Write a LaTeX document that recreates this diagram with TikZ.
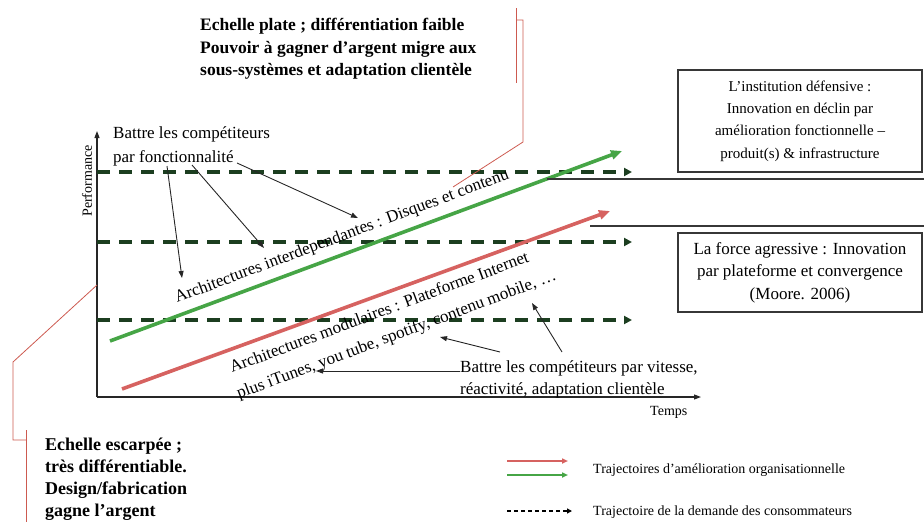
\documentclass[tikz,border=0pt]{standalone}
\usepackage{fontspec}
\setmainfont{Liberation Serif}
\usetikzlibrary{arrows.meta}
\definecolor{demandgreen}{RGB}{28,62,32}
\definecolor{trajgreen}{RGB}{70,165,70}
\definecolor{trajred}{RGB}{214,98,96}
\definecolor{bracketred}{RGB}{205,90,80}
\definecolor{framegray}{RGB}{55,55,55}
\newcommand\fsz[2]{\fontsize{#1}{#2}\selectfont}

\begin{document}
\begin{tikzpicture}[x=1pt,y=-1pt,
  lbl/.style={inner sep=0pt, align=left},
  boldnote/.style={lbl, anchor=north west, font=\fsz{17.5}{22.5}\bfseries},
  note/.style={lbl, font=\fsz{17}{22}},
  small/.style={lbl, font=\fsz{14}{17}},
  framed/.style={draw=framegray, line width=1.3pt, align=center, inner sep=0pt, minimum width=244pt},
  axis/.style={draw=black!85, line width=1.1pt, -{Triangle[length=7pt,width=5pt]}},
  pointer/.style={draw=black!85, line width=0.9pt, -{Triangle[length=7pt,width=5pt]}},
  demand/.style={draw=demandgreen, line width=3.3pt, dash pattern=on 13pt off 9pt, -{Triangle[length=8pt,width=8pt]}},
  trajG/.style={draw=trajgreen, line width=3.6pt, -{Triangle[length=11pt,width=9pt]}},
  trajR/.style={draw=trajred, line width=3.6pt, -{Triangle[length=11pt,width=9pt]}},
  legG/.style={draw=trajgreen, line width=1.8pt, -{Triangle[length=6pt,width=5pt]}},
  legR/.style={draw=trajred, line width=1.8pt, -{Triangle[length=6pt,width=5pt]}},
  legD/.style={draw=black, line width=1.2pt, dash pattern=on 4pt off 3pt, -{Triangle[length=5pt,width=5pt]}},
  bracket/.style={draw=bracketred, line width=0.8pt},
  rule/.style={draw=framegray, line width=1.3pt},
]
\useasboundingbox (0,0) rectangle (924,522);

% ---- axes ----
\coordinate (O) at (97,397);
\coordinate (ytop) at (97,131);
\coordinate (xend) at (701,397);
\draw[axis] (O) -- (ytop);
\draw[axis] (O) -- (xend);
\node[small, rotate=90] (perf) at (87,181) {Performance};
\node[small, anchor=base west] (temps) at (650,415) {Temps};

% ---- consumer demand levels ----
\coordinate (d1s) at (97,172);  \coordinate (d1e) at (632,172);
\coordinate (d2s) at (97,242);  \coordinate (d2e) at (632,242);
\coordinate (d3s) at (97,320);  \coordinate (d3e) at (632,320);
\draw[demand] (d1s) -- (d1e);
\draw[demand] (d2s) -- (d2e);
\draw[demand] (d3s) -- (d3e);

% ---- brackets to the two annotations ----
\coordinate (ba) at (516,8);   \coordinate (bb) at (516,83);
\coordinate (bc) at (516,20);  \coordinate (bd) at (523,20);
\coordinate (be) at (523,142); \coordinate (bf) at (453,187);
\draw[bracket] (ba) -- (bb);
\draw[bracket] (bc) -- (bd) -- (be) -- (bf);
\coordinate (ca) at (97,285);  \coordinate (cb) at (13,362);
\coordinate (cc) at (13,440);  \coordinate (cd) at (26,440);
\coordinate (ce) at (26,430);  \coordinate (cf) at (26,522);
\draw[bracket] (ca) -- (cb) -- (cc) -- (cd);
\draw[bracket] (ce) -- (cf);

% ---- improvement trajectories ----
\coordinate (g0) at (110,341); \coordinate (g1) at (622,151);
\coordinate (r0) at (122,389); \coordinate (r1) at (610,211);
\draw[trajG] (g0) -- (g1);
\draw[trajR] (r0) -- (r1);

\node[note, anchor=base west, rotate=20.5] (interdep) at (177,303)
  {Architectures interdependantes : Disques et contenu};
\node[note, anchor=base west, rotate=20.5] (modA) at (232,373)
  {Architectures modulaires : Plateforme Internet};
\node[note, anchor=base west, rotate=20.5] (modB) at (239,399)
  {plus iTunes, you tube, spotify, contenu mobile, …};

% ---- separators and the two boxes ----
\coordinate (h1s) at (547,179); \coordinate (h1e) at (924,179);
\coordinate (h2s) at (590,226); \coordinate (h2e) at (924,226);
\draw[rule] (h1s) -- (h1e);
\draw[rule] (h2s) -- (h2e);
\node[framed, minimum height=102pt, font=\fsz{15}{22.3}] (defense) at (800,121)
  {L’institution défensive :\\Innovation en déclin par\\amélioration fonctionnelle –\\produit(s) \& infrastructure};
\node[framed, minimum height=79pt, font=\fsz{17}{22.5}] (attack) at (800,272.5)
  {La force agressive : Innovation\\par plateforme et convergence\\(Moore. 2006)};

% ---- annotations ----
\node[boldnote] (flat) at (200,18)
  {Echelle plate ; différentiation faible\\Pouvoir à gagner d’argent migre aux\\sous-systèmes et adaptation clientèle};
\node[boldnote, font=\fsz{18}{22}\bfseries] (steep) at (45,438)
  {Echelle escarpée ;\\très différentiable.\\Design/fabrication\\gagne l’argent};

\node[note, anchor=north west, font=\fsz{17}{24}] (func) at (113,126.3)
  {Battre les compétiteurs\\par fonctionnalité};
\coordinate (f1) at (167,166); \coordinate (t1) at (182,278);
\coordinate (f2) at (192,165); \coordinate (t2) at (264,248);
\coordinate (f3) at (237,163); \coordinate (t3) at (358,218);
\draw[pointer] (f1) -- (t1);
\draw[pointer] (f2) -- (t2);
\draw[pointer] (f3) -- (t3);

\node[note, anchor=north west] (speed) at (460,360.3)
  {Battre les compétiteurs par vitesse,\\réactivité, adaptation clientèle};
\coordinate (s1) at (460,371); \coordinate (u1) at (316,371);
\coordinate (s2) at (500,352); \coordinate (u2) at (440,337);
\coordinate (s3) at (562,352); \coordinate (u3) at (532,303);
\draw[pointer] (s1) -- (u1);
\draw[pointer] (s2) -- (u2);
\draw[pointer] (s3) -- (u3);

% ---- legend ----
\coordinate (lr0) at (507,461); \coordinate (lr1) at (568,461);
\coordinate (lg0) at (507,475); \coordinate (lg1) at (568,475);
\coordinate (ld0) at (507,511); \coordinate (ld1) at (572,511);
\draw[legR] (lr0) -- (lr1);
\draw[legG] (lg0) -- (lg1);
\draw[legD] (ld0) -- (ld1);
\node[small, anchor=base west] (legtraj) at (593,473) {Trajectoires d’amélioration organisationnelle};
\node[small, anchor=base west] (legdem) at (593,515) {Trajectoire de la demande des consommateurs};
\end{tikzpicture}
\end{document}
